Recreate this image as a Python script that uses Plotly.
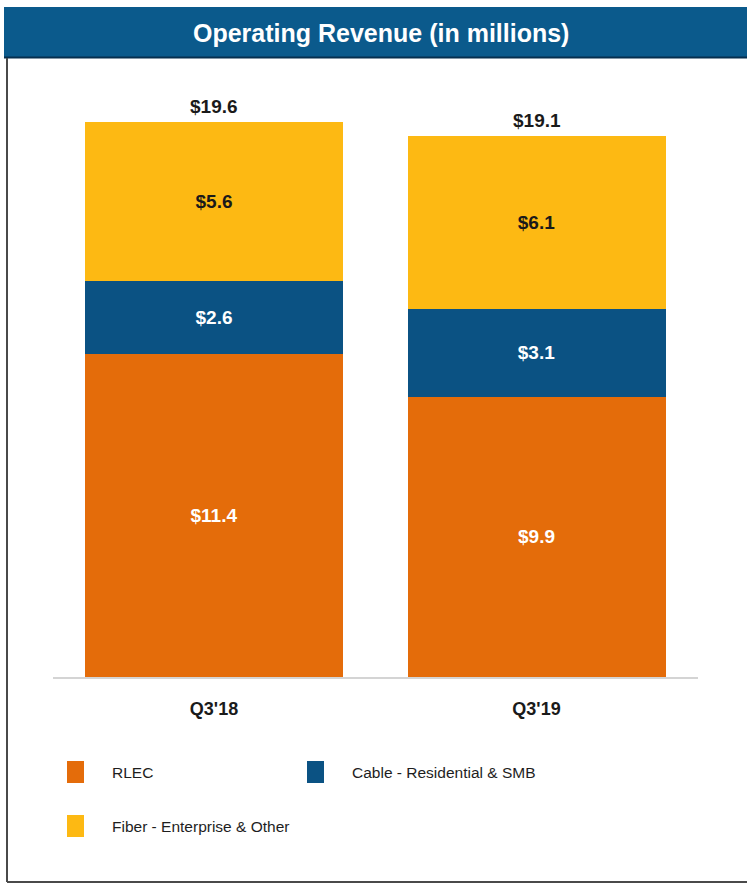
import plotly.graph_objects as go

# Quarterly operating revenue by segment ($ millions)
quarters = ["Q3'18", "Q3'19"]
rlec = [11.4, 9.9]
cable = [2.6, 3.1]
fiber = [5.6, 6.1]

series_names = ["RLEC", "Cable - Residential & SMB", "Fiber - Enterprise & Other"]
series_values = [rlec, cable, fiber]
series_colors = ["#E46C0A", "#0B5283", "#FDB913"]
label_colors = ["#FFFFFF", "#FFFFFF", "#1A1A1A"]

W, H = 747, 884
FONT = "Liberation Sans, Arial, sans-serif"


def px(x):
    return x / W


def py(y):
    return (H - y) / H


fig = go.Figure()
for name, vals, col, tcol in zip(series_names, series_values, series_colors, label_colors):
    fig.add_trace(go.Bar(
        x=quarters, y=vals, name=name,
        marker=dict(color=col, line=dict(width=0)),
        texttemplate="<b>$%{y:.1f}</b>", textposition="inside",
        insidetextanchor="middle",
        textfont=dict(family=FONT, size=19, color=tcol),
        showlegend=False, hoverinfo="skip",
    ))

totals = [round(sum(v), 1) for v in zip(*series_values)]

annotations = []
for q, t in zip(quarters, totals):
    annotations.append(dict(
        x=q, y=t, xref="x", yref="y", text=f"<b>${t:.1f}</b>",
        showarrow=False, yanchor="bottom", yshift=3,
        font=dict(family=FONT, size=19, color="#1A1A1A"),
    ))

# Header title
annotations.append(dict(
    x=px(381), y=py(33), xref="paper", yref="paper",
    text="<b>Operating Revenue (in millions)</b>", showarrow=False,
    xanchor="center", yanchor="middle",
    font=dict(family=FONT, size=25, color="#FFFFFF"),
))

shapes = [
    # header band
    dict(type="rect", xref="paper", yref="paper", x0=px(4), x1=1.0,
         y0=py(58), y1=py(7), fillcolor="#0B5A8C", line=dict(width=0), layer="below"),
    dict(type="line", xref="paper", yref="paper", x0=px(4), x1=1.0,
         y0=py(57.5), y1=py(57.5), line=dict(color="#062F4F", width=2)),
    # frame
    dict(type="line", xref="paper", yref="paper", x0=px(7), x1=px(7),
         y0=py(58), y1=py(882), line=dict(color="#4A4A4A", width=2)),
    dict(type="line", xref="paper", yref="paper", x0=px(7), x1=1.0,
         y0=py(882), y1=py(882), line=dict(color="#4A4A4A", width=2)),
]

# Legend built from the series definitions
legend_pos = [(67, 110, 772), (307, 350, 772), (67, 110, 826)]
for (sx, tx, cy), name, col in zip(legend_pos, series_names, series_colors):
    shapes.append(dict(type="rect", xref="paper", yref="paper",
                       x0=px(sx), x1=px(sx + 17), y0=py(cy + 11), y1=py(cy - 11),
                       fillcolor=col, line=dict(width=0)))
    annotations.append(dict(x=px(tx), y=py(cy), xref="paper", yref="paper",
                            text=name, showarrow=False, xanchor="left", yanchor="middle",
                            font=dict(family=FONT, size=15.5, color="#1E1E1E")))

fig.update_layout(
    width=W, height=H, barmode="stack", bargap=0.2,
    margin=dict(l=0, r=0, t=0, b=0),
    paper_bgcolor="#FFFFFF", plot_bgcolor="#FFFFFF",
    xaxis=dict(domain=[px(52.75), px(697.75)], showline=True, linecolor="#D4D4D4", linewidth=2,
               showgrid=False, zeroline=False, ticks="", ticklabelstandoff=14,
               tickfont=dict(family=FONT, size=18, color="#1A1A1A"),
               tickvals=quarters, ticktext=[f"<b>{q}</b>" for q in quarters]),
    yaxis=dict(domain=[py(677), py(100)], range=[0, 577 / 28.32], visible=False),
    shapes=shapes, annotations=annotations,
    uniformtext=dict(mode=None),
)

fig.write_html("out.html")
